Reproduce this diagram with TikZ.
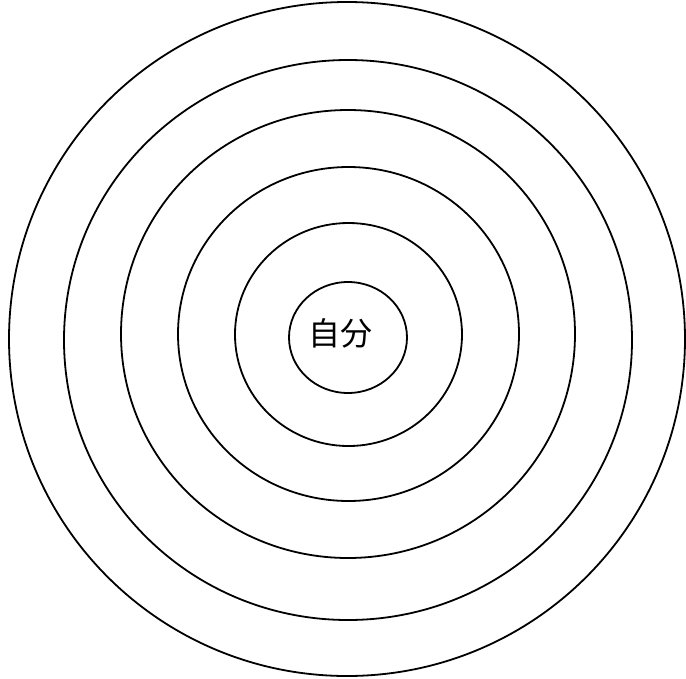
\documentclass[tikz,border=0pt]{standalone}
\usepackage{fontspec}
\newfontfamily\jpfont{Noto Sans CJK JP}
\usepackage{tikz}
\tikzset{
  ring/.style={draw=black, line width=1.8pt},
  selflabel/.style={font=\jpfont\fontsize{32}{32}\selectfont, inner sep=0pt}
}

\begin{document}
\begin{tikzpicture}[x=1pt, y=-1pt]
    \useasboundingbox (0,0) rectangle (686,678);

    % rings, from the inside out
    \foreach \cx/\cy/\rx/\ry in {348/337.5/59/55.5, 348.5/334.5/113.5/111.5, 348.5/334/170.5/167,
                                 348/334/227/224, 348/340/284/280, 347/339/338/337}
        \draw[ring] (\cx,\cy) ellipse [x radius=\rx, y radius=\ry];

    \node (self) [selflabel] at (340,333) {自分};
\end{tikzpicture}
\end{document}
